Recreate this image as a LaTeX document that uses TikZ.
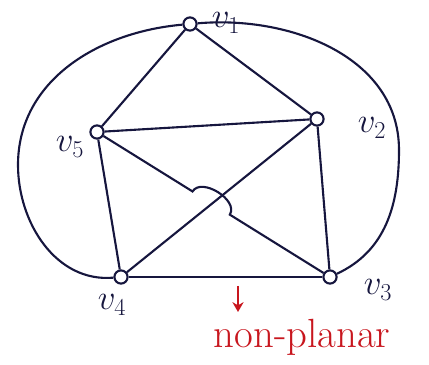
\documentclass[tikz,border=0pt]{standalone}
\usepackage{xcolor}
\usepackage{tikz}
\usetikzlibrary{positioning, arrows.meta, calc}
\definecolor{inkblue}{RGB}{22,22,62}
\definecolor{inkred}{RGB}{200,22,30}

\begin{document}
\begin{tikzpicture}[x=0.025cm, y=-0.025cm, line width=1.5pt, inkblue,
  every node/.style={font=\fontsize{25}{27}\selectfont},
  vertex/.style={circle, draw=inkblue, line width=1.5pt, fill=white, inner sep=0pt, minimum size=0.33cm},
  vlabel/.style={text=inkblue, inner sep=1pt}]
\useasboundingbox (0,0) rectangle (429,365);

% Vertices of the graph
\node[vertex] (v1) at (190,24) {};
\node[vertex] (v2) at (317,119) {};
\node[vertex] (v3) at (330,277) {};
\node[vertex] (v4) at (121,277) {};
\node[vertex] (v5) at (97,132) {};

% Vertex labels
\node[vlabel] (l1) at (226,23) {$v_1$};
\node[vlabel] (l2) at (372,128) {$v_2$};
\node[vlabel] (l3) at (378,290) {$v_3$};
\node[vlabel] (l4) at (112,305) {$v_4$};
\node[vlabel] (l5) at (70,147) {$v_5$};

% Inner edges
\draw (v1) -- (v5);
\draw (v1) -- (v2);
\draw (v5) -- (v2);
\draw (v5) -- (v4);
\draw (v2) -- (v3);
\draw (v4) -- (v3);
\draw (v4) -- (v2);

% Diagonal v5--v3 hopping over v4--v2
\coordinate (hopA) at ($(v5)!0.41!(v3)$);
\coordinate (hopB) at ($(v5)!0.57!(v3)$);
\draw (v5) -- (hopA) to[bend left=90] (hopB) -- (v3);

% Outer edges round the left and the right
\coordinate (leftbulge) at (18,165);
\coordinate (rightbulge) at (399,150);
\draw (v1) to[out=185, in=90] (leftbulge) to[out=270, in=185] (v4);
\draw (v1) to[out=5, in=90] (rightbulge) to[out=270, in=25] (v3);

% Annotation
\coordinate (arrtop) at (238,286);
\coordinate (arrbot) at (238,312);
\draw[inkred, line width=1.5pt, -{Stealth[length=7pt, width=8pt]}] (arrtop) -- (arrbot);
\node[text=inkred, font=\fontsize{29}{31}\selectfont] (nonplanar) at (302,337) {non-planar};
\end{tikzpicture}
\end{document}
